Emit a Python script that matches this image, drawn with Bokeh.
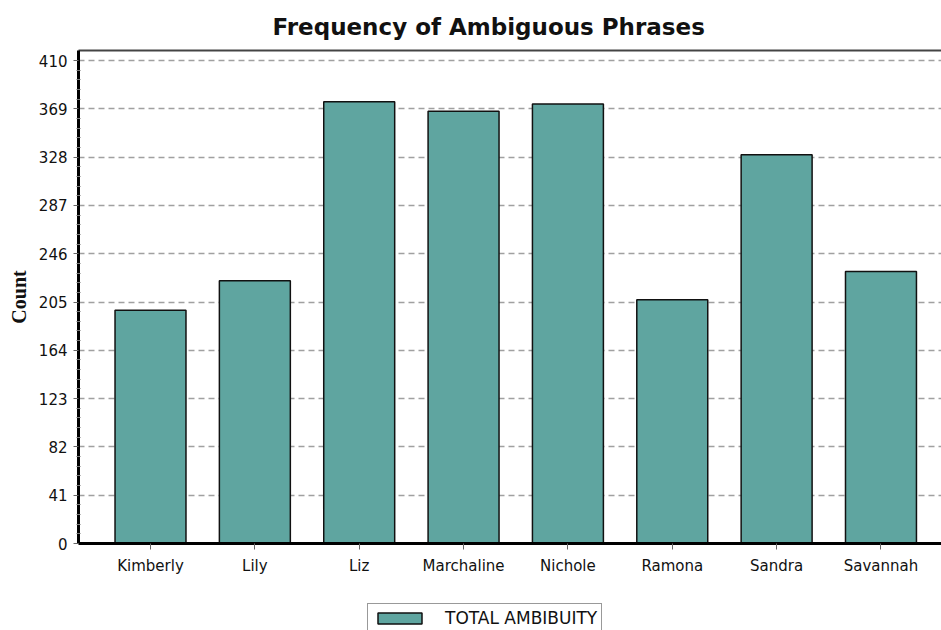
from bokeh.plotting import figure
from bokeh.layouts import column
from bokeh.models import Range1d, FixedTicker, LinearAxis, Legend, LegendItem, ColumnDataSource
from bokeh.embed import file_html
from bokeh.resources import INLINE

names = ["Kimberly", "Lily", "Liz", "Marchaline", "Nichole", "Ramona", "Sandra", "Savannah"]
counts = [198, 223, 375, 367, 373, 207, 330, 231]
y_ticks = [0, 41, 82, 123, 164, 205, 246, 287, 328, 369, 410]
series_name = "TOTAL AMBIBUITY"
title_text = "Frequency of Ambiguous Phrases"
y_label = "Count"

BAR_FILL = "#5fa5a0"
BAR_LINE = "#111111"

positions = [i + 0.5 for i in range(len(names))]
src = ColumnDataSource(dict(x=positions, top=counts, name=names))

step = y_ticks[1] - y_ticks[0]
minor = [t + k * step / 5 for t in y_ticks[:-1] for k in range(1, 5)]

p = figure(width=941, height=602, output_backend="svg", toolbar_location=None,
           x_range=Range1d(-0.19, 8.08), y_range=Range1d(0, 418.5),
           min_border_left=78, min_border_right=0, min_border_top=50, min_border_bottom=59)

p.title.text = title_text
p.title.text_font = "DejaVu Sans"
p.title.text_font_size = "23px"
p.title.text_font_style = "bold"
p.title.text_color = "#111111"
p.title.align = "left"
p.title.offset = 194
p.title.standoff = 22

r = p.vbar(x="x", top="top", width=0.68, source=src, fill_color=BAR_FILL,
           line_color=BAR_LINE, line_width=1.5)

p.outline_line_color = None
p.background_fill_color = "white"
p.border_fill_color = "white"

# y axis
yax = p.yaxis[0]
yax.ticker = FixedTicker(ticks=y_ticks, minor_ticks=minor)
yax.axis_line_color = "black"
yax.axis_line_width = 3
yax.major_tick_line_color = "#666666"
yax.major_tick_out = 5
yax.major_tick_in = 0
yax.minor_tick_line_color = "#777777"
yax.minor_tick_in = 2
yax.minor_tick_out = 2
yax.major_label_text_font = "DejaVu Sans"
yax.major_label_text_font_size = "15px"
yax.major_label_text_color = "#111111"
yax.major_label_standoff = 6
yax.axis_label = y_label
yax.axis_label_text_font = "Liberation Serif"
yax.axis_label_text_font_style = "bold"
yax.axis_label_text_font_size = "20px"
yax.axis_label_text_color = "#111111"
yax.axis_label_standoff = 6

# x axis
xax = p.xaxis[0]
xax.ticker = FixedTicker(ticks=positions)
xax.major_label_overrides = {pos: n for pos, n in zip(positions, names)}
xax.axis_line_color = "black"
xax.axis_line_width = 3
xax.major_tick_line_color = "#666666"
xax.major_tick_out = 6
xax.major_tick_in = 0
xax.minor_tick_line_color = None
xax.major_label_text_font = "DejaVu Sans"
xax.major_label_text_font_size = "15px"
xax.major_label_text_color = "#111111"
xax.major_label_standoff = 7

# top border
top = LinearAxis(ticker=FixedTicker(ticks=[]), axis_line_color="#444444", axis_line_width=2,
                 major_label_text_font_size="0px", major_tick_line_color=None,
                 minor_tick_line_color=None)
p.add_layout(top, "above")

# grid
p.xgrid.visible = False
p.ygrid.ticker = FixedTicker(ticks=y_ticks)
p.ygrid.grid_line_color = "#a0a0a0"
p.ygrid.grid_line_dash = "6 4"
p.ygrid.grid_line_width = 1.5

# legend strip below the chart
p2 = figure(width=941, height=28, output_backend="svg", toolbar_location=None,
            x_axis_type=None, y_axis_type=None, min_border=0,
            x_range=Range1d(0, 1), y_range=Range1d(0, 1))
p2.outline_line_color = None
p2.grid.visible = False
r2 = p2.vbar(x="x", top="top", width=0.68, source=src, fill_color=BAR_FILL,
             line_color=BAR_LINE, line_width=1.5, visible=False)

legend = Legend(items=[LegendItem(label=series_name, renderers=[r2])], location=(289, -3),
                glyph_width=55, glyph_height=14, label_height=14, label_standoff=18,
                padding=4, spacing=0,
                label_text_font="DejaVu Sans", label_text_font_size="17px",
                label_text_color="#111111", border_line_color="#333333", border_line_width=1,
                background_fill_alpha=1, margin=0)
p2.add_layout(legend, "center")

layout = column(p, p2, spacing=0)
open("out.html", "w").write(file_html(layout, INLINE))
